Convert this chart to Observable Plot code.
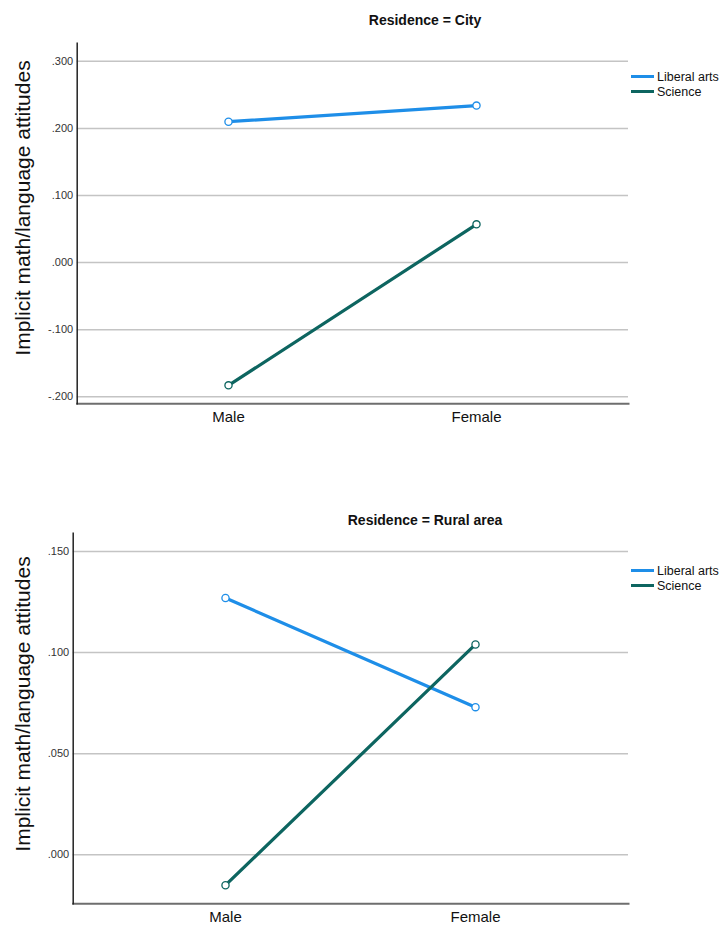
<!DOCTYPE html>
<html>
<head>
<meta charset="utf-8">
<script src="https://cdn.jsdelivr.net/npm/d3@7"></script>
<script src="https://cdn.jsdelivr.net/npm/@observablehq/plot@0.6"></script>
<style>
  html, body { margin: 0; padding: 0; background: #fff; }
  .panel { position: relative; width: 722px; font-family: "Liberation Sans", Arial, sans-serif; color: #111; }
  .panel svg { display: block; }
  .ptitle { position: absolute; width: 260px; text-align: center; font-weight: bold; font-size: 14px; line-height: 16px; white-space: nowrap; }
  .lg { position: absolute; left: 631px; font-size: 12.5px; line-height: 14px; height: 14px; white-space: nowrap; }
  .lg span.sw { display: inline-block; width: 23px; height: 3px; margin-right: 3px; vertical-align: middle; position: relative; top: -1px; }
  .ytitle { position: absolute; white-space: nowrap; font-size: 21px; line-height: 1; transform: translate(-50%, -50%) rotate(-90deg); }
</style>
</head>
<body>
<div id="top" class="panel" style="height:460px"></div>
<div id="bottom" class="panel" style="height:466px"></div>
<script>
// ---- data ----
const genders = ["Male", "Female"];
const seriesNames = ["Liberal arts", "Science"];
const seriesColors = ["#1e8ee8", "#0d6560"];
const cityLiberal = [0.210, 0.234];
const cityScience = [-0.183, 0.057];
const ruralLiberal = [0.127, 0.073];
const ruralScience = [-0.015, 0.104];
const cityTicks = [-0.2, -0.1, 0, 0.1, 0.2, 0.3];
const ruralTicks = [0, 0.05, 0.1, 0.15];
const cityDomain = [-0.2105, 0.327];
const ruralDomain = [-0.0242, 0.159];
const yTitle = "Implicit math/language attitudes";
const cityTitle = "Residence = City";
const ruralTitle = "Residence = Rural area";

function rows(lib, sci) {
  const out = [];
  genders.forEach((g, i) => out.push({gender: g, value: lib[i], series: seriesNames[0]}));
  genders.forEach((g, i) => out.push({gender: g, value: sci[i], series: seriesNames[1]}));
  return out;
}
const fmt = d => {
  const s = Math.abs(d).toFixed(3).replace(/^0\./, ".");
  return (d < 0 ? "-" : "") + s;
};

function makePanel(el, cfg) {
  const data = rows(cfg.lib, cfg.sci);
  const svg = Plot.plot({
    width: 722,
    height: cfg.height,
    marginLeft: cfg.marginLeft,
    marginRight: 94,
    marginTop: cfg.marginTop,
    marginBottom: cfg.marginBottom,
    style: {fontFamily: "'Liberation Sans', Arial, sans-serif", background: "#fff", color: "#111"},
    x: {type: "point", domain: genders, padding: 0.61, label: null},
    y: {domain: cfg.domain, label: null},
    color: {domain: seriesNames, range: seriesColors},
    marks: [
      Plot.gridY(cfg.ticks, {stroke: "#c4c4c4", strokeOpacity: 1, strokeWidth: 1.5}),
      Plot.axisY(cfg.ticks, {tickSize: 0, tickPadding: 4, tickFormat: fmt, fontSize: 11, fill: "#333", label: null}),
      Plot.axisX({tickSize: 0, tickPadding: 8, fontSize: 15, fill: "#111", label: null}),
      Plot.frame({anchor: "bottom", stroke: "#6e6e6e", strokeWidth: 2}),
      Plot.frame({anchor: "left", stroke: "#222", strokeWidth: 1.5}),
      Plot.line(data, {x: "gender", y: "value", z: "series", stroke: "series", strokeWidth: 3.2}),
      Plot.dot(data, {x: "gender", y: "value", stroke: "series", fill: "#fff", r: 3.6, strokeWidth: 1.3})
    ]
  });
  el.appendChild(svg);

  const t = document.createElement("div");
  t.className = "ptitle";
  t.style.left = (425 - 130) + "px";
  t.style.top = cfg.titleTop + "px";
  t.textContent = cfg.title;
  el.appendChild(t);

  seriesNames.forEach((s, i) => {
    const d = document.createElement("div");
    d.className = "lg";
    d.style.top = (cfg.legendTop + i * 15) + "px";
    const sw = document.createElement("span");
    sw.className = "sw";
    sw.style.background = seriesColors[i];
    d.appendChild(sw);
    d.appendChild(document.createTextNode(s));
    el.appendChild(d);
  });

  const yt = document.createElement("div");
  yt.className = "ytitle";
  yt.style.left = "22px";
  yt.style.top = cfg.yTitleCenter + "px";
  yt.textContent = yTitle;
  el.appendChild(yt);
}

makePanel(document.getElementById("top"), {
  lib: cityLiberal, sci: cityScience, ticks: cityTicks, domain: cityDomain,
  height: 460, marginLeft: 76.7, marginTop: 42.7, marginBottom: 56.7,
  title: cityTitle, titleTop: 12, legendTop: 70, yTitleCenter: 208
});
makePanel(document.getElementById("bottom"), {
  lib: ruralLiberal, sci: ruralScience, ticks: ruralTicks, domain: ruralDomain,
  height: 466, marginLeft: 72.7, marginTop: 72.7, marginBottom: 22.7,
  title: ruralTitle, titleTop: 52, legendTop: 104, yTitleCenter: 243.5
});
</script>
</body>
</html>
